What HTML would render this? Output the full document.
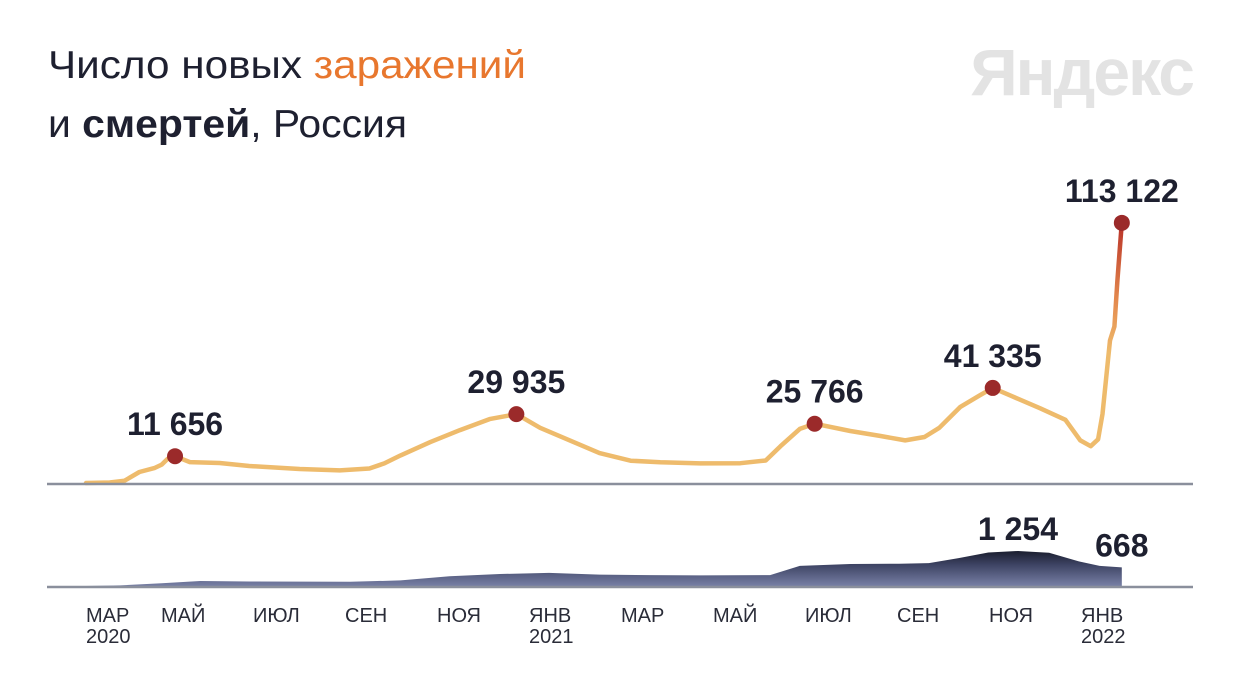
<!DOCTYPE html>
<html><head><meta charset="utf-8"><style>
html,body{margin:0;padding:0;background:#fff;}
body{width:1242px;height:675px;overflow:hidden;font-family:"Liberation Sans","DejaVu Sans",sans-serif;}
</style></head><body>
<svg id="chart" width="1242" height="675" xmlns="http://www.w3.org/2000/svg" style="font-family:'Liberation Sans','DejaVu Sans',sans-serif">
<defs>
<linearGradient id="lineGrad" gradientUnits="userSpaceOnUse" x1="0" y1="483" x2="0" y2="223">
<stop offset="0" stop-color="#eebb6c"/><stop offset="0.5" stop-color="#eebb6c"/><stop offset="0.7" stop-color="#e48a4e"/><stop offset="1" stop-color="#b93228"/>
</linearGradient>
<linearGradient id="areaGrad" gradientUnits="userSpaceOnUse" x1="0" y1="550" x2="0" y2="587">
<stop offset="0" stop-color="#181b2b"/><stop offset="0.4" stop-color="#3e4464"/><stop offset="1" stop-color="#7a82a8"/>
</linearGradient>
</defs>
<text x="48" y="78" font-size="39" fill="#1e2030" textLength="478" lengthAdjust="spacingAndGlyphs">Число новых <tspan fill="#e8772e">заражений</tspan></text>
<text x="48" y="137" font-size="39" fill="#1e2030" textLength="359" lengthAdjust="spacingAndGlyphs">и <tspan font-weight="bold">смертей</tspan>, Россия</text>
<text x="1193" y="95" text-anchor="end" font-size="66" font-weight="bold" fill="#e3e3e3" letter-spacing="-2">Яндекс</text>
<g id="deaths"></g>
<g id="cases"></g>
<line x1="47" y1="484" x2="1193" y2="484" stroke="#8a8f9c" stroke-width="2.5"/>
<line x1="47" y1="587" x2="1193" y2="587" stroke="#8a8f9c" stroke-width="2.5"/>
<g id="xaxis"></g>
<g id="labels"></g>
</svg>
<script>
const caseDays=[0,16,26,36,46,51,55,60,70,90,110,144,171,191,201,212,232,252,272,290,306,326,346,367,387,414,441,458,468,481,491,515,535,552,565,575,589,602,611,623,643,660,670,677,682,685,690,693,695,698];
const caseVals=[0,200,1000,4800,6500,8000,10500,11656,9100,8700,7400,6100,5500,6300,8500,12000,17800,23000,27800,29935,24000,18500,13000,9700,9000,8500,8600,9800,16000,23500,25766,22600,20500,18500,20000,24000,33000,38000,41335,38000,32500,27500,18500,16000,19000,30000,62000,68000,88000,113122];
const peakIdx=[7,19,30,38,49];
const peakLabels=["11 656","29 935","25 766","41 335","113 122"];
const deathDays=[0,23,51,77,110,178,212,245,279,312,346,380,414,461,481,515,548,568,588,608,628,649,669,683,698];
const deathVals=[0,20,100,180,160,150,200,350,430,470,410,390,380,390,720,790,800,820,1000,1200,1254,1190,880,720,668];
const deathLabelIdx=[20,24];
const deathLabels=["1 254","668"];
const monthNames=["МАР","МАЙ","ИЮЛ","СЕН","НОЯ","ЯНВ","МАР","МАЙ","ИЮЛ","СЕН","НОЯ","ЯНВ"];
const monthYears=["2020","","","","","2021","","","","","","2022"];

const NS="http://www.w3.org/2000/svg";
const x=d=>86+d*1.484;
const yC=v=>483-v*0.0023;
const yD=v=>586-v*0.0279;
const xLab=i=>i===0?86:161+(i-1)*92;
function mk(t,a,p){const e=document.createElementNS(NS,t);for(const k in a)e.setAttribute(k,a[k]);p.appendChild(e);return e;}

const dg=document.getElementById('deaths');
let dp="M"+x(deathDays[0])+","+586;
deathDays.forEach((d,i)=>{dp+=" L"+x(d).toFixed(1)+","+yD(deathVals[i]).toFixed(1);});
dp+=" L"+x(deathDays[deathDays.length-1])+",586 Z";
const area=mk('path',{d:dp,fill:"url(#areaGrad)"},dg);



const cg=document.getElementById('cases');
let cp="";
caseDays.forEach((d,i)=>{cp+=(i?" L":"M")+x(d).toFixed(1)+","+yC(caseVals[i]).toFixed(1);});
const line=mk('path',{d:cp,fill:"none",stroke:"url(#lineGrad)","stroke-width":4.5,"stroke-linejoin":"round","stroke-linecap":"round"},cg);



const lg=document.getElementById('labels');
peakIdx.forEach((k,j)=>{
  const cx=x(caseDays[k]),cy=yC(caseVals[k]);
  const c=mk('circle',{cx:cx,cy:cy,r:8,fill:"#9b2a2a"},cg);
  
  
  const t=mk('text',{x:cx,y:cy-21,"text-anchor":"middle","font-size":32,"font-weight":"bold",fill:"#1e2030"},lg);
  t.textContent=peakLabels[j];
  
  
});
deathLabelIdx.forEach((k,j)=>{
  const t=mk('text',{x:x(deathDays[k]),y:yD(deathVals[k])-11,"text-anchor":"middle","font-size":32,"font-weight":"bold",fill:"#1e2030"},lg);
  t.textContent=deathLabels[j];
  
  
});

const xg=document.getElementById('xaxis');
monthNames.forEach((m,i)=>{
  const t=mk('text',{x:xLab(i),y:622,"font-size":20,fill:"#2a2c38"},xg);
  t.textContent=m;
  
  
  if(monthYears[i]){
    const y=mk('text',{x:xLab(i),y:643,"font-size":20,fill:"#2a2c38"},xg);
    y.textContent=monthYears[i];
    
    
  }
});
</script>
</body></html>
